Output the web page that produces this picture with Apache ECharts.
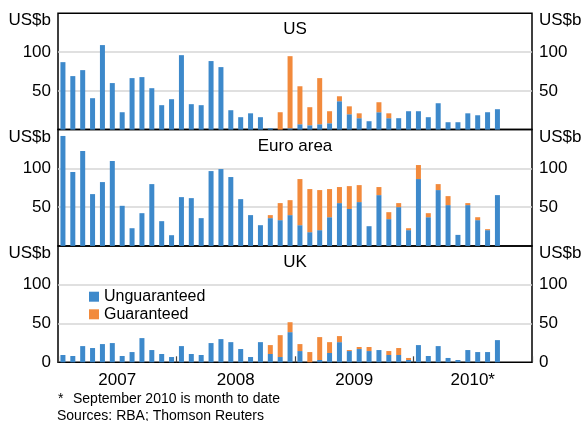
<!DOCTYPE html>
<html>
<head>
<meta charset="utf-8">
<script src="https://cdn.jsdelivr.net/npm/echarts@6/dist/echarts.min.js"></script>
<style>
html,body{margin:0;padding:0;background:#fff;}
#chart{width:587px;height:421px;}
</style>
</head>
<body>
<div id="chart"></div>
<script>
// Months on the axis: Jan 2007 to Dec 2010 (data to Sep 2010)
var months = [];
['2007','2008','2009','2010'].forEach(function(y){
  ['Jan','Feb','Mar','Apr','May','Jun','Jul','Aug','Sep','Oct','Nov','Dec'].forEach(function(m){ months.push(m + ' ' + y); });
});
var years = ['2007', '2008', '2009', '2010*'];
var yTicks = [0, 50, 100, 150];

// US$b
var usUnguaranteed = [87, 69, 76.7, 40.5, 109, 60, 22.4, 66.4, 67.7, 53.4, 31.5, 39.2,
  96, 32.8, 31.5, 88.4, 80.6, 25, 16, 21, 16, 1.7, 0, 1.7,
  6.9, 5.6, 6.9, 8.2, 36.6, 19.8, 14.7, 10.8, 22.4, 14.7, 14.7, 23.7,
  23.7, 16, 34, 9.5, 9.5, 21, 18.5, 22.4, 26.3];
var usGuaranteed = [0, 0, 0, 0, 0, 0, 0, 0, 0, 0, 0, 0,
  0, 0, 0, 0, 0, 0, 0, 0, 0, 0, 22.4, 93,
  49, 23.3, 59.5, 15.5, 6.4, 10.2, 6.3, 0, 12.9, 6.3, 0, 0,
  0, 0, 0, 0, 0, 0, 0, 0, 0];

var euUnguaranteed = [141.8, 95.3, 122.4, 66.8, 82.3, 109.5, 51.7, 22.8, 42.2, 79.7, 31.9, 13.8,
  62.9, 61.6, 35.8, 96.5, 99.1, 88.8, 60.3, 39.7, 26.7, 35.8, 33.2, 39.7,
  26.7, 17.7, 20.3, 37, 55.2, 47.6, 56.5, 25.4, 65.5, 34.5, 50, 20.3,
  86.2, 37, 72, 52.6, 14.2, 52.6, 33.2, 20.3, 65.5];
var euGuaranteed = [0, 0, 0, 0, 0, 0, 0, 0, 0, 0, 0, 0,
  0, 0, 0, 0, 0, 0, 0, 0, 0, 3.9, 22, 19.3,
  59.5, 55.6, 51.7, 36.3, 20.7, 29.5, 21.9, 0, 10.4, 9, 5.2, 2.5,
  18.1, 5.2, 7.7, 11.6, 0, 2.6, 3.8, 1.3, 0];

var ukUnguaranteed = [9.4, 8.1, 20.9, 18.4, 23.5, 24.8, 8.1, 13.2, 31.2, 15.8, 10.7, 6.8,
  20.9, 10.7, 9.4, 24.8, 29.9, 26, 17.1, 6.8, 26, 10.7, 6.8, 38.9,
  14.5, 0, 3, 12, 26, 14.5, 17.1, 14.5, 15.8, 9.4, 9.4, 3,
  22.2, 8.1, 20.9, 5.6, 3, 15.8, 13.2, 13.2, 28.6];
var ukGuaranteed = [0, 0, 0, 0, 0, 0, 0, 0, 0, 0, 0, 0,
  0, 0, 0, 0, 0, 0, 0, 0, 0, 11.5, 28.2, 12.8,
  9, 13.2, 29.5, 14, 7.8, 1.3, 2.6, 5.2, 0, 5.1, 9, 2.6,
  0, 0, 0, 0, 0, 0, 0, 0, 0];

var panelTitles = ['US', 'Euro area', 'UK'];
var seriesNames = ['Unguaranteed', 'Guaranteed'];

var BLUE = '#3D89CB', ORANGE = '#F28A3C';
var FONT = "'Liberation Sans', Arial, sans-serif";
var panels = [[usUnguaranteed, usGuaranteed], [euUnguaranteed, euGuaranteed], [ukUnguaranteed, ukGuaranteed]];
var tops = [13.3, 129.6, 246];
var H = 116.3;
var L = 58, R = 55;

var grids = [], xAxes = [], yAxes = [], series = [], graphics = [];
panels.forEach(function(p, i){
  grids.push({left: L, right: R, top: tops[i], height: H, show: true, borderColor: '#000', borderWidth: 1.5, backgroundColor: 'transparent'});
  xAxes.push({type: 'category', gridIndex: i, data: months, boundaryGap: true,
    axisLine: {show: false}, axisTick: {show: false}, axisLabel: {show: false}, splitLine: {show: false}});
  [0, 1].forEach(function(side){
    yAxes.push({type: 'value', gridIndex: i, min: yTicks[0], max: yTicks[yTicks.length-1], interval: 50,
      position: side === 0 ? 'left' : 'right',
      axisLine: {show: false}, axisTick: {show: false},
      splitLine: {show: side === 0, showMinLine: false, showMaxLine: false, lineStyle: {color: '#d6d6d6', width: 1.5}},
      axisLabel: {margin: 7, fontSize: 17, color: '#000', fontFamily: FONT,
        formatter: function(v){
          if (v === 150) return '{u|US$b}';
          if (v === 0 && i !== 2) return '';
          return String(v);
        },
        rich: {u: {fontSize: 17, color: '#000', fontFamily: FONT, padding: [15, 0, 0, 0]}}
      }
    });
  });
  series.push({type: 'bar', name: seriesNames[0], xAxisIndex: i, yAxisIndex: 2*i, stack: 'p' + i,
    data: p[0], barWidth: 5, itemStyle: {color: BLUE}});
  series.push({type: 'bar', name: seriesNames[1], xAxisIndex: i, yAxisIndex: 2*i, stack: 'p' + i,
    data: p[1], barWidth: 5, itemStyle: {color: ORANGE}});
  graphics.push({type: 'text', x: 295, y: [29, 146, 262.7][i],
    style: {text: panelTitles[i], fill: '#000', font: '17px ' + FONT, textAlign: 'center', textVerticalAlign: 'middle'}});
});
// year axis (labels + ticks) on the bottom panel
xAxes.push({type: 'category', gridIndex: 2, data: years, boundaryGap: true, position: 'bottom',
  axisLine: {show: false},
  axisTick: {show: true, inside: true, length: 6, interval: 0, lineStyle: {color: '#444', width: 1.2}},
  axisLabel: {interval: 0, margin: 10, fontSize: 17, color: '#000', fontFamily: FONT},
  splitLine: {show: false}});

graphics.push({type: 'text', x: 58, y: 399, style: {text: '*', fill: '#000', font: '14px ' + FONT, textVerticalAlign: 'middle'}});
graphics.push({type: 'text', x: 73, y: 399, style: {text: 'September 2010 is month to date', fill: '#000', font: '14px ' + FONT, textVerticalAlign: 'middle'}});
graphics.push({type: 'text', x: 57, y: 416.5, style: {text: 'Sources: RBA; Thomson Reuters', fill: '#000', font: '14px ' + FONT, textVerticalAlign: 'middle'}});

var chart = echarts.init(document.getElementById('chart'), null, {renderer: 'canvas'});
chart.setOption({
  animation: false,
  backgroundColor: '#fff',
  textStyle: {fontFamily: FONT},
  grid: grids,
  xAxis: xAxes,
  yAxis: yAxes,
  legend: {data: seriesNames, orient: 'vertical', left: 89, top: 288.7, padding: 0, itemWidth: 10, itemHeight: 10,
    itemGap: 1.6, itemTextGap: 5, icon: 'rect', selectedMode: false,
    textStyle: {fontSize: 16, color: '#000', fontFamily: FONT}},
  series: series,
  graphic: graphics
});
</script>
</body>
</html>
